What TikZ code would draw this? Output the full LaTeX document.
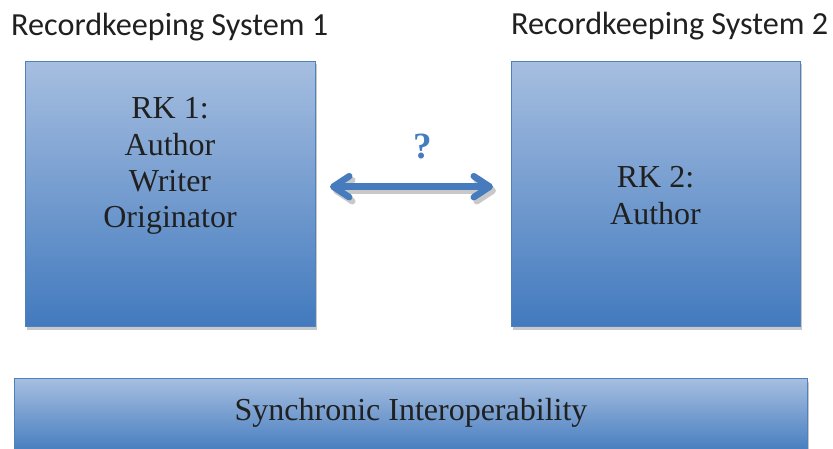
\documentclass[tikz,border=0pt]{standalone}
\usepackage{fontspec}
\setmainfont{Liberation Serif}
\newfontfamily\calfont{Carlito}
\usetikzlibrary{arrows.meta,shadows}
\definecolor{rktop}{RGB}{166,190,224}
\definecolor{rkmid}{RGB}{128,161,209}
\definecolor{rkbot}{RGB}{66,122,190}
\definecolor{rkborder}{RGB}{79,129,189}
\definecolor{shadowgray}{RGB}{200,200,200}
\definecolor{arrowblue}{RGB}{70,124,190}
\definecolor{inktext}{RGB}{32,32,32}
\begin{document}
\begin{tikzpicture}[x=1pt,y=1pt,
  rkbox/.style={draw=rkborder, line width=1pt, top color=rktop, middle color=rkmid,
    bottom color=rkbot, inner sep=0pt,
    drop shadow={shadow xshift=1pt, shadow yshift=-3pt, fill=shadowgray, opacity=1}},
  boxtext/.style={font=\fontsize{32}{37}\selectfont, text=inktext, anchor=base, inner sep=0pt},
  systitle/.style={font=\calfont\fontsize{32.2}{38}\selectfont, text=inktext, anchor=base west, inner sep=0pt},
  barb/.tip={Straight Barb[length=16pt, width=21pt, line cap=round, line join=round]},
  dblarrow/.style={line width=6.5pt, line cap=round, {barb}-{barb}}]
\useasboundingbox (0,0) rectangle (833,448);

% system titles
\node[systitle] (sys1) at (11,412) {Recordkeeping System 1};
\node[systitle] (sys2) at (511,413) {Recordkeeping System 2};

% the two recordkeeping boxes
\node[rkbox, minimum width=290pt, minimum height=265pt, anchor=south west] (rk1) at (25,121) {};
\node[rkbox, minimum width=289pt, minimum height=265pt, anchor=south west] (rk2) at (511,121) {};

\node[boxtext] (rk1a) at (170,329) {RK 1:};
\node[boxtext] (rk1b) at (170,292.3) {Author};
\node[boxtext] (rk1c) at (170,256.3) {Writer};
\node[boxtext] (rk1d) at (170,220.3) {Originator};

\node[boxtext] (rk2a) at (655.5,260.7) {RK 2:};
\node[boxtext] (rk2b) at (655.5,224) {Author};

% double-headed arrow between the systems, with its shadow
\coordinate (al) at (330,261.3);
\coordinate (ar) at (493,261.3);
\coordinate (als) at (333,257.3);
\coordinate (ars) at (496,257.3);
\draw[dblarrow, shadowgray] (als) -- (ars);
\draw[dblarrow, arrowblue] (al) -- (ar);
\node[font=\bfseries\fontsize{37}{44}\selectfont, text=arrowblue, anchor=base, inner sep=0pt] (q) at (423,289) {?};

% interoperability bar
\node[rkbox, minimum width=793pt, minimum height=76pt, anchor=north west] (bar) at (14,70) {};
\node[boxtext] (sync) at (411,28) {Synchronic Interoperability};
\end{tikzpicture}
\end{document}
